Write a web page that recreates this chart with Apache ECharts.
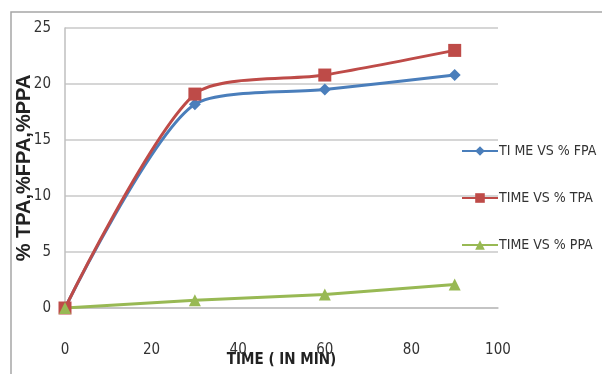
<!DOCTYPE html>
<html><head><meta charset="utf-8">
<script src="https://cdn.jsdelivr.net/npm/echarts@6/dist/echarts.min.js"></script>
<style>html,body{margin:0;padding:0;background:#fff}#c{width:602px;height:374px}</style>
</head><body><div id="c"></div>
<script>
const times = [0, 30, 60, 90];
const fpa = [0, 18.2, 19.5, 20.8];
const tpa = [0, 19.1, 20.8, 23.0];
const ppa = [0, 0.7, 1.2, 2.1];
const seriesNames = ['TI ME VS % FPA', 'TIME VS % TPA', 'TIME VS % PPA'];
const xTitle = 'TIME ( IN MIN)';
const yTitle = '% TPA,%FPA,%PPA';

const font = '"DejaVu Sans Condensed","Liberation Sans Narrow","Liberation Sans",sans-serif';
const pair = (ys) => times.map((t, i) => [t, ys[i]]);
const chart = echarts.init(document.getElementById('c'), null, {renderer: 'canvas'});
chart.setOption({
  animation: false,
  backgroundColor: '#fff',
  graphic: [{type: 'rect', shape: {x: 11, y: 12, width: 600, height: 370}, style: {fill: 'none', stroke: '#a6a6a6', lineWidth: 1.5}, z: -1}],
  grid: {left: 65, right: 104, top: 28, bottom: 66, containLabel: false, outerBoundsMode: 'none'},
  xAxis: {
    type: 'value', min: 0, max: 100, interval: 20,
    name: xTitle, nameLocation: 'middle', nameGap: 52, nameMoveOverlap: false,
    nameTextStyle: {fontFamily: font, fontSize: 15, fontWeight: 'bold', color: '#222', verticalAlign: 'middle'},
    axisLine: {show: true, lineStyle: {color: '#bfbfbf', width: 1.5}},
    axisTick: {show: false},
    axisLabel: {margin: 35, fontFamily: font, fontSize: 15, color: '#333'},
    splitLine: {show: false}
  },
  yAxis: {
    type: 'value', min: 0, max: 25, interval: 5,
    name: yTitle, nameLocation: 'middle', nameGap: 41, nameMoveOverlap: false, nameRotate: 90,
    nameTextStyle: {fontFamily: '"Liberation Sans",Arial,sans-serif', fontSize: 20, fontWeight: 'bold', color: '#222', verticalAlign: 'middle'},
    axisLine: {show: true, lineStyle: {color: '#bfbfbf', width: 1.5}},
    axisTick: {show: false},
    axisLabel: {margin: 14, fontFamily: font, fontSize: 15, color: '#333'},
    splitLine: {show: true, lineStyle: {color: '#c8c8c8', width: 1.5}}
  },
  legend: {
    orient: 'vertical', left: 456, top: 139, itemGap: 33, itemWidth: 36, itemHeight: 12,
    textStyle: {fontFamily: font, fontSize: 14, color: '#333', padding: [0, 0, 0, -4]},
    data: seriesNames
  },
  series: [
    {name: seriesNames[0], type: 'line', data: pair(fpa), smooth: 0.25, symbol: 'diamond', symbolSize: 12,
     lineStyle: {color: '#4a7ebb', width: 3}, itemStyle: {color: '#4a7ebb'}},
    {name: seriesNames[1], type: 'line', data: pair(tpa), smooth: 0.25, symbol: 'rect', symbolSize: 13,
     lineStyle: {color: '#be4b48', width: 3}, itemStyle: {color: '#be4b48'}},
    {name: seriesNames[2], type: 'line', data: pair(ppa), smooth: false, symbol: 'triangle', symbolSize: 12,
     lineStyle: {color: '#98b954', width: 3}, itemStyle: {color: '#98b954'}}
  ]
});
</script></body></html>
